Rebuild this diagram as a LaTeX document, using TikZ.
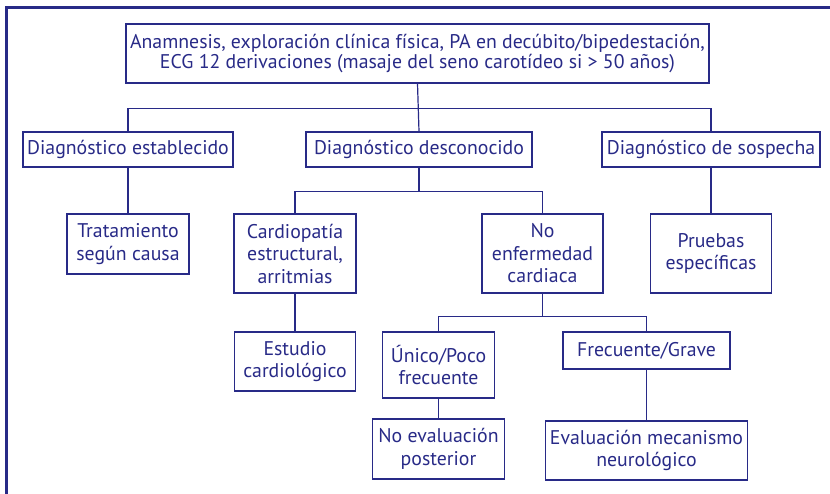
\documentclass[tikz,border=0pt]{standalone}
\usepackage{fontspec}
\setmainfont{PT Sans}
\usepackage{xcolor}
\usepackage{tikz}
\usetikzlibrary{positioning, calc}
\definecolor{diagblue}{RGB}{40, 42, 135}

\begin{document}
\begin{tikzpicture}[
    x=1pt, y=-1pt,
    every node/.style={font=\fontsize{19.8}{22.5}\selectfont, align=center, text=diagblue},
    flowbox/.style={draw=diagblue, rectangle, inner sep=0pt, line width=1.2pt},
    link/.style={draw=diagblue, line width=1.2pt},
    frameline/.style={draw=diagblue, line width=3pt}
]
\useasboundingbox (0,0) rectangle (830,494);

% Outer frame (top and left edges)
\draw[frameline] (6,494) |- (830,7.5);

% Row 0: Initial assessment
\node[flowbox, minimum width=583pt, minimum height=59pt, font=\fontsize{19.8}{20}\selectfont] (assess) at (417.5,53.5) {Anamnesis, exploración clínica física, PA en decúbito/bipedestación,\\ECG 12 derivaciones (masaje del seno carotídeo si > 50 años)};

% Row 1: Diagnosis type
\node[flowbox, minimum width=210pt, minimum height=35pt] (known) at (128,149.5) {Diagnóstico establecido};
\node[flowbox, minimum width=226pt, minimum height=35pt] (unknown) at (419,149.5) {Diagnóstico desconocido};
\node[flowbox, minimum width=218pt, minimum height=35pt] (suspect) at (711,149.5) {Diagnóstico de sospecha};

% Row 2: First consequences
\node[flowbox, minimum width=122pt, minimum height=60pt] (treat) at (128,244) {Tratamiento\\según causa};
\node[flowbox, minimum width=122pt, minimum height=79pt] (cardio) at (295,253.5) {Cardiopatía\\estructural,\\arritmias};
\node[flowbox, minimum width=121pt, minimum height=79pt] (noheart) at (542.5,253.5) {No\\enfermedad\\cardiaca};
\node[flowbox, minimum width=121pt, minimum height=79pt] (tests) at (711,253.5) {Pruebas\\específicas};

% Row 3: Frequency
\node[flowbox, minimum width=121pt, minimum height=59pt] (cardstudy) at (295,361.5) {Estudio\\cardiológico};
\node[flowbox, minimum width=112pt, minimum height=66pt] (rare) at (438.5,365) {Único/Poco\\frecuente};
\node[flowbox, minimum width=167pt, minimum height=37pt] (frequent) at (646.5,350.5) {Frecuente/Grave};

% Row 4: Follow-up
\node[flowbox, minimum width=132pt, minimum height=60pt] (noeval) at (438.5,449) {No evaluación\\posterior};
\node[flowbox, minimum width=202pt, minimum height=59pt] (neuroeval) at (646.5,450.5) {Evaluación mecanismo\\neurológico};

% Branching points
\coordinate (split1) at ($(assess.south)!0.52!(assess.south |- unknown.north)$);
\coordinate (split2) at ($(unknown.south)!0.53!(unknown.south |- cardio.north)$);
\coordinate (split3) at ($(noheart.south)!0.6!(noheart.south |- rare.north)$);

% Row 0 to Row 1
\draw[link] (assess.south) -- (unknown.north);
\draw[link] (known.north) |- (split1) -| (suspect.north);

% Row 1 to Row 2
\draw[link] (known) -- (treat);
\draw[link] (unknown.south) -- (split2);
\draw[link] (cardio.north) |- (split2) -| (noheart.north);
\draw[link] (suspect) -- (tests);

% Row 2 to Row 3
\draw[link] (cardio) -- (cardstudy);
\draw[link] (noheart.south) -- (split3);
\draw[link] (rare.north) |- (split3) -| (frequent.north);

% Row 3 to Row 4
\draw[link] (rare) -- (noeval);
\draw[link] (frequent) -- (neuroeval);

\end{tikzpicture}
\end{document}
